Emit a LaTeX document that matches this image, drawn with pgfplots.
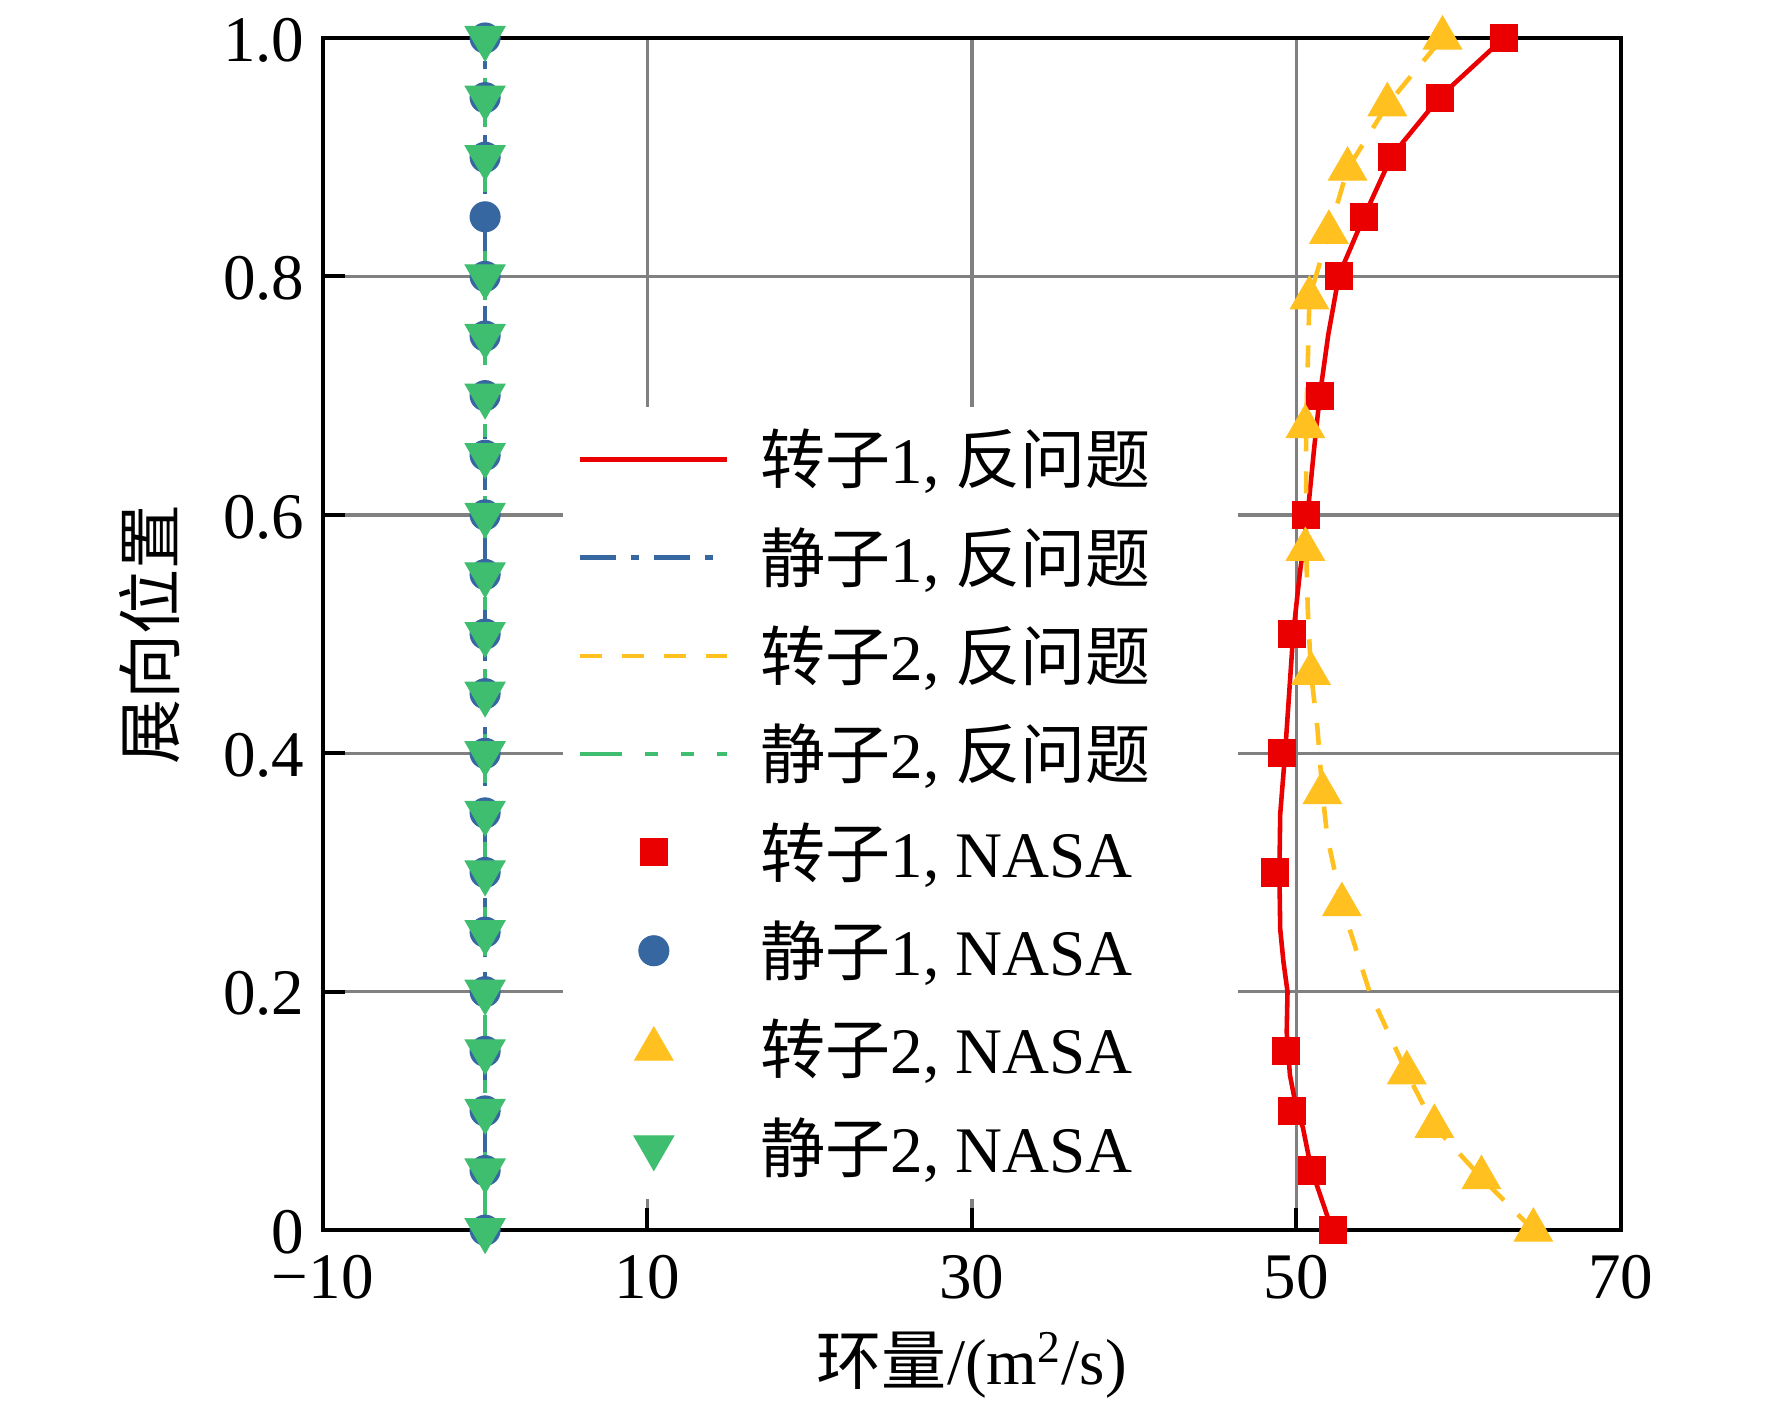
\documentclass[border=0pt]{standalone}
\usepackage{pgfplots}
\pgfplotsset{compat=1.18}
\usepackage{fontspec}
\setmainfont{Liberation Serif}
\newfontfamily\cjk{Noto Sans CJK SC}
\definecolor{cred}{RGB}{234,0,0}
\definecolor{cblue}{RGB}{55,103,160}
\definecolor{cyellow}{RGB}{255,192,32}
\definecolor{cgreen}{RGB}{62,190,110}
\definecolor{cgray}{RGB}{128,128,128}
\newcommand{\fs}{\fontsize{18.5}{22}\selectfont}
\begin{document}
\begin{tikzpicture}
\begin{axis}[
  at={(0,0)}, anchor=south west,
  width=12.98cm, height=11.92cm, scale only axis,
  xmin=-10, xmax=70, ymin=0, ymax=1,
  xtick={-10,10,30,50,70}, xticklabels={−10,10,30,50,70},
  ytick={0,0.2,0.4,0.6,0.8,1}, yticklabels={0,0.2,0.4,0.6,0.8,1.0},
  tick pos=left, tick align=inside, major tick length=0.22cm,
  minor tick num=0,
  every tick/.style={black, line width=1.15pt},
  axis line style={line width=1.15pt},
  grid=major, major grid style={color=cgray, line width=1pt},
  tick label style={font=\fs},
  xticklabel style={yshift=-0.13cm},
  yticklabel style={xshift=-0.06cm, yshift=-0.02cm},
  xlabel={{\cjk 环量}/(m\textsuperscript{2}/s)},
  ylabel={\cjk 展向位置},
  every axis x label/.style={at={(axis description cs:0.5,-0.1133)}, anchor=center, font=\fs},
  every axis y label/.style={at={(axis description cs:-0.1333,0.5)}, anchor=center, rotate=90, font=\fs},
  clip=false,
  legend style={at={(0.1845,0.6908)}, anchor=north west, draw=none, fill=white, font=\fs,
    inner xsep=0.15cm, inner ysep=0.15cm, row sep=0.243cm,
    /tikz/every odd column/.append style={column sep=0.24cm}},
  legend cell align=left,
  legend image code/.code={\draw[mark repeat=2,mark phase=2,#1] plot coordinates {(0cm,0cm) (0.735cm,0cm) (1.47cm,0cm)};},
]
% inverse-problem lines
\addplot[cred, line width=1.3pt, mark=none] coordinates {
(52.2,0) (50.9,0.052) (50.4,0.086) (50.0,0.102) (49.6,0.13) (49.4,0.166) (49.45,0.20) (49.2,0.225) (49.0,0.2525) (48.95,0.30) (49.0,0.349) (49.3,0.40) (49.55,0.45) (49.8,0.50) (50.2,0.55) (50.7,0.602) (51.1,0.657) (51.45,0.701) (51.96,0.751) (52.62,0.801) (54.19,0.851) (55.87,0.901) (58.87,0.951) (62.78,1.0)};
\addlegendentry{{\cjk 转子}1, {\cjk 反问题}\hspace*{0.65cm}}
\addplot[cblue, line width=1.3pt, mark=none, dash pattern=on 0.36cm off 0.15cm on 0.08cm off 0.15cm] coordinates {(0,0) (0,1)};
\addlegendentry{{\cjk 静子}1, {\cjk 反问题}}
\addplot[cyellow, line width=1.3pt, mark=none, dash pattern=on 0.22cm off 0.2cm] coordinates {
(64.6,0) (61.4,0.044) (58.5,0.087) (56.8,0.132) (54.5,0.2) (52.8,0.273) (51.9,0.33) (51.6,0.367) (51.3,0.42) (50.9,0.467) (50.7,0.52) (50.6,0.571) (50.6,0.674) (50.8,0.782) (52.0,0.837) (53.15,0.89) (55.6,0.944) (59.0,1.0)};
\addlegendentry{{\cjk 转子}2, {\cjk 反问题}}
\addplot[cgreen, line width=1.3pt, mark=none, dash pattern=on 0.42cm off 0.23cm on 0.13cm off 0.23cm on 0.13cm off 0.23cm on 0.13cm off 0.23cm] coordinates {(0,0) (0,1)};
\addlegendentry{{\cjk 静子}2, {\cjk 反问题}}
% NASA data
\addplot[only marks, mark=square*, mark size=0.135cm, mark options={fill=cred, draw=cred, line width=0.3pt, solid}] coordinates {
(52.23,0) (50.93,0.05) (49.75,0.10) (49.38,0.15) (48.7,0.30) (49.13,0.40) (49.75,0.50) (50.56,0.60) (51.45,0.70) (52.62,0.80) (54.19,0.85) (55.87,0.90) (58.87,0.95) (62.78,1.0)};
\addlegendentry{{\cjk 转子}1, NASA}
\addplot[only marks, mark=*, mark size=0.15cm, mark options={fill=cblue, draw=cblue, line width=0.3pt, solid}] coordinates {
(0,0) (0,0.05) (0,0.10) (0,0.15) (0,0.20) (0,0.25) (0,0.30) (0,0.35) (0,0.40) (0,0.45) (0,0.50) (0,0.55) (0,0.60) (0,0.65) (0,0.70) (0,0.75) (0,0.80) (0,0.85) (0,0.90) (0,0.95) (0,1.0)};
\addlegendentry{{\cjk 静子}1, NASA}
\addplot[only marks, mark=triangle*, mark size=0.22cm, mark options={fill=cyellow, draw=cyellow, line width=0.3pt, solid}] coordinates {
(64.6,0) (61.4,0.044) (58.5,0.087) (56.8,0.132) (52.8,0.273) (51.6,0.367) (50.9,0.467) (50.55,0.571) (50.55,0.674) (50.8,0.782) (52.0,0.837) (53.15,0.89) (55.6,0.944) (59.0,1.0)};
\addlegendentry{{\cjk 转子}2, NASA}
\addplot[only marks, mark=triangle*, mark size=0.23cm, mark options={fill=cgreen, draw=cgreen, line width=0.3pt, solid, rotate=180}] coordinates {
(0,0) (0,0.05) (0,0.10) (0,0.15) (0,0.20) (0,0.25) (0,0.30) (0,0.35) (0,0.40) (0,0.45) (0,0.50) (0,0.55) (0,0.60) (0,0.65) (0,0.70) (0,0.75) (0,0.80) (0,0.90) (0,0.95) (0,1.0)};
\addlegendentry{{\cjk 静子}2, NASA}
\end{axis}
\pgfresetboundingbox
\path (-3.228,-1.71) rectangle (14.49,12.30);
\end{tikzpicture}
\end{document}
